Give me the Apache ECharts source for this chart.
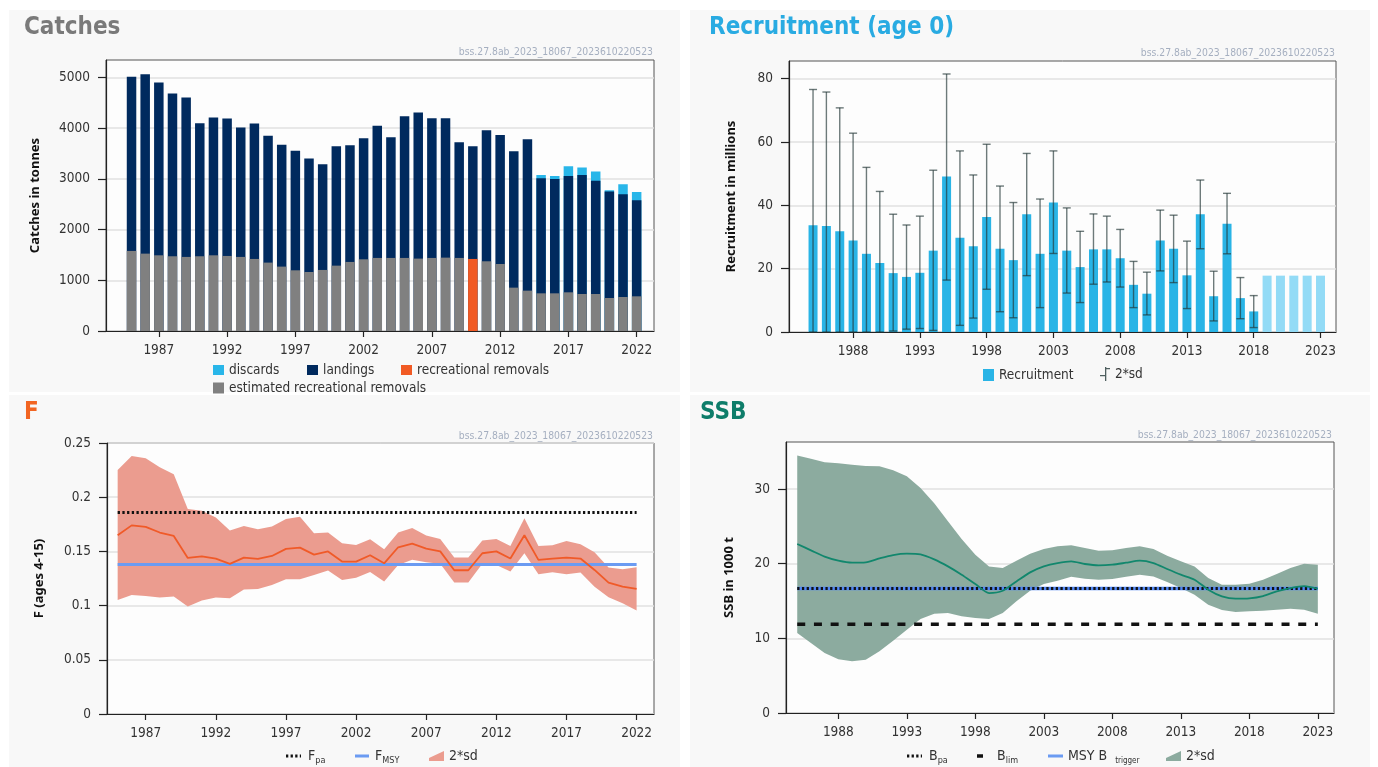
<!DOCTYPE html>
<html lang="en">
<head>
<meta charset="UTF-8">
<title>bss.27.8ab 2023 - stock summary</title>
<script src="https://cdn.jsdelivr.net/npm/echarts@6/dist/echarts.min.js"></script>
<style>
  html, body { margin: 0; padding: 0; background: #fff; }
  #main { width: 1378px; height: 767px; }
</style>
</head>
<body>
<div id="main"></div>
<script>
// ---- data ----
function yearsFrom(start, n) { var a = []; for (var i = 0; i < n; i++) a.push(start + i); return a; }

// catches (tonnes), 1985-2022
var catchYears = yearsFrom(1985, 38);
var estRecRemovals = [1579,1526,1493,1474,1461,1474,1493,1480,1461,1421,1349,1270,1197,1164,1204,1289,1362,1414,1441,1441,1441,1428,1441,1447,1441,null,1375,1322,855,796,743,743,763,730,730,651,671,684];
var recRemovals = [null,null,null,null,null,null,null,null,null,null,null,null,null,null,null,null,null,null,null,null,null,null,null,null,null,1421,null,null,null,null,null,null,null,null,null,null,null,null];
var landings = [3434,3540,3408,3210,3144,2625,2718,2711,2552,2671,2500,2401,2356,2237,2085,2356,2302,2389,2605,2381,2796,2881,2756,2750,2283,2224,2586,2546,2691,2987,2270,2257,2296,2349,2231,2099,2026,1895];
var discards = [null,null,null,null,null,null,null,null,null,null,null,null,null,null,null,null,null,null,null,null,null,null,null,null,null,null,null,null,null,null,66,59,191,145,184,26,198,164];
var catchTicks = [1987,1992,1997,2002,2007,2012,2017,2022];

// recruitment (millions)
var recYears = yearsFrom(1985, 34);
var recruitment = [33.7,33.5,31.8,28.9,24.7,21.8,18.6,17.4,18.7,25.7,49.1,29.8,27.1,36.3,26.3,22.7,37.2,24.7,40.9,25.7,20.5,26.1,26.1,23.3,14.9,12.1,28.9,26.3,17.9,37.2,11.3,34.2,10.7,6.5];
var recHigh = [76.6,75.8,70.8,62.8,52.0,44.4,37.2,33.8,36.6,51.1,81.5,57.2,49.6,59.3,46.1,40.9,56.4,42.0,57.2,39.2,31.8,37.3,36.6,32.4,22.3,18.9,38.5,36.9,28.7,48.0,19.2,43.8,17.2,11.5];
var recLow = [0,0,0,0,0,0,0.3,0.9,1.1,0.5,16.4,2.1,4.4,13.5,6.4,4.5,17.8,7.7,24.8,12.3,9.3,15.1,15.8,14.2,7.7,5.4,19.3,15.6,7.4,26.3,3.5,24.7,4.2,1.4];
var recAssumedYears = [2019,2020,2021,2022,2023];
var recAssumed = [17.8,17.8,17.8,17.8,17.8];
var recTicks = [1988,1993,1998,2003,2008,2013,2018,2023];

// fishing mortality F (ages 4-15)
var fYears = yearsFrom(1985, 38);
var fValues = [0.165,0.174,0.1726,0.1674,0.1643,0.144,0.1455,0.1434,0.1385,0.1443,0.1431,0.1458,0.1523,0.1535,0.147,0.150,0.1406,0.1406,0.1465,0.139,0.1538,0.1572,0.1526,0.150,0.1326,0.1326,0.1483,0.150,0.1434,0.1649,0.1422,0.1434,0.1443,0.1434,0.1329,0.1212,0.1175,0.1154];
var fHigh = [0.2252,0.238,0.236,0.2277,0.2212,0.189,0.1874,0.1812,0.1692,0.1735,0.1705,0.1729,0.180,0.182,0.1668,0.1674,0.1575,0.156,0.1612,0.152,0.1674,0.1717,0.1646,0.1615,0.1443,0.1443,0.16,0.1615,0.155,0.1806,0.155,0.1557,0.1597,0.1566,0.1492,0.1351,0.1335,0.1354];
var fLow = [0.1052,0.1098,0.1089,0.1074,0.1083,0.0991,0.1046,0.1074,0.1068,0.1148,0.1154,0.119,0.1243,0.1243,0.1283,0.1323,0.1237,0.1258,0.1311,0.1222,0.1375,0.1422,0.14,0.1385,0.1212,0.1212,0.1385,0.1375,0.1314,0.1483,0.1289,0.1308,0.1289,0.1305,0.1175,0.1077,0.1022,0.0954];
var Fpa = 0.186, Fmsy = 0.138;
var fTicks = [1987,1992,1997,2002,2007,2012,2017,2022];

// SSB (1000 t)
var ssbYears = yearsFrom(1985, 39);
var ssbValues = [22.63,21.79,20.94,20.4,20.13,20.18,20.71,21.16,21.34,21.25,20.58,19.64,18.53,17.28,16.07,16.38,17.63,18.84,19.64,20.09,20.31,19.96,19.78,19.87,20.13,20.4,20.09,19.29,18.53,17.86,16.52,15.63,15.31,15.36,15.67,16.29,16.74,17.0,16.65];
var ssbHigh = [34.5,34.06,33.6,33.44,33.26,33.08,33.04,32.5,31.7,30.13,28.1,25.7,23.3,21.2,19.64,19.42,20.4,21.34,21.96,22.32,22.46,22.1,21.74,21.79,22.1,22.32,21.96,21.07,20.31,19.64,18.08,17.19,17.19,17.32,17.86,18.62,19.42,20.0,19.87];
var ssbLow = [10.71,9.375,8.04,7.19,6.92,7.14,8.26,9.69,11.16,12.59,13.3,13.39,12.95,12.72,12.59,13.39,14.96,16.38,17.28,17.72,18.26,17.99,17.86,17.95,18.26,18.53,18.3,17.54,16.74,15.85,14.51,13.79,13.53,13.62,13.71,13.84,13.97,13.84,13.3];
var Blim = 11.9, Bpa = 16.66, MSYBtrigger = 16.66;
var ssbTicks = [1988,1993,1998,2003,2008,2013,2018,2023];

var stamp = 'bss.27.8ab_2023_18067_2023610220523';

// ---- helpers ----
var FONT = "'DejaVu Sans Condensed','Liberation Sans Narrow',sans-serif";
var NAMEFONT = "'Noto Sans','Open Sans',sans-serif";

function pairs(xs, ys) { return xs.map(function (x, i) { return [x, ys[i]]; }); }

// running totals so the catch components sit on top of each other
var catchBase = catchYears.map(function (y, i) { return (estRecRemovals[i] || 0) + (recRemovals[i] || 0); });
var landTop = catchYears.map(function (y, i) { return catchBase[i] + landings[i]; });
var discTop = catchYears.map(function (y, i) { return discards[i] == null ? null : landTop[i] + discards[i]; });

function xAxis(grid, min, max, ticks) {
  return {
    type: 'value', gridIndex: grid, min: min, max: max,
    splitLine: { show: false },
    axisLine: { show: true, onZero: false, lineStyle: { color: '#222', width: 1.2 } },
    axisTick: { show: true, length: 6, customValues: ticks, lineStyle: { color: '#222', width: 1.2 } },
    axisLabel: { customValues: ticks, margin: 12, fontSize: 13.5, color: '#333', fontFamily: FONT,
      formatter: function (v) { return String(v); } }
  };
}

function yAxis(grid, max, step, ticks, name, gap) {
  return {
    type: 'value', gridIndex: grid, min: 0, max: max, interval: step,
    name: name, nameLocation: 'middle', nameGap: gap,
    nameTextStyle: { fontFamily: NAMEFONT, fontWeight: 'bold', fontSize: 13, color: '#111' },
    axisLine: { show: true, lineStyle: { color: '#222', width: 1.2 } },
    axisTick: { show: true, length: 8, customValues: ticks, lineStyle: { color: '#222', width: 1.2 } },
    axisLabel: { customValues: ticks, margin: 16, fontSize: 13.5, color: '#333', fontFamily: FONT,
      formatter: function (v) { return String(v); } },
    splitLine: { show: true, lineStyle: { color: '#e1e1e1', width: 1.5 } }
  };
}

function grid(left, top, width, height) {
  return { left: left, top: top, width: width, height: height, show: true,
    backgroundColor: '#fdfdfd', borderColor: '#555', borderWidth: 1, outerBoundsMode: 'none' };
}

function barLegend(name, left, top, w, h, icon, color, label) {
  return {
    left: left, top: top, padding: 0, itemWidth: w, itemHeight: h, itemGap: 0,
    selectedMode: false, symbolKeepAspect: false,
    data: [{ name: name, icon: icon, itemStyle: { color: color, borderWidth: 0 } }],
    formatter: label ? function () { return label; } : undefined,
    textStyle: { fontSize: 13.5, color: '#333', fontFamily: FONT }
  };
}

// confidence band drawn as one polygon through the axis scales
function bandSeries(name, axis, years, lo, hi, color) {
  return {
    type: 'custom', name: name, xAxisIndex: axis, yAxisIndex: axis, z: 1, silent: true,
    data: years.map(function (y, i) { return [y, lo[i], hi[i]]; }),
    encode: { x: 0, y: [1, 2] },
    renderItem: function (params, api) {
      if (params.dataIndex !== 0) return null;
      var pts = [];
      for (var i = 0; i < years.length; i++) pts.push(api.coord([years[i], hi[i]]));
      for (var j = years.length - 1; j >= 0; j--) pts.push(api.coord([years[j], lo[j]]));
      return { type: 'polygon', shape: { points: pts }, style: { fill: color } };
    }
  };
}

function refLine(name, axis, years, value, color, width, dash) {
  return { type: 'line', name: name, xAxisIndex: axis, yAxisIndex: axis, symbol: 'none', z: 3, silent: true,
    data: [[years[0], value], [years[years.length - 1], value]],
    lineStyle: { color: color, width: width, type: dash || 'solid' } };
}

var rich = {
  n: { fontSize: 14, fontFamily: FONT, fill: '#333', lineHeight: 18 },
  s: { fontSize: 9, fontFamily: FONT, fill: '#333', lineHeight: 9, verticalAlign: 'bottom' },
  t: { fontSize: 8, fontFamily: FONT, fill: '#333', lineHeight: 8, verticalAlign: 'bottom' }
};
function legText(x, y, text) {
  return { type: 'text', x: x, y: y, z: 20,
    style: { text: text, rich: rich, fontSize: 14, fontFamily: FONT, fill: '#333', verticalAlign: 'middle' } };
}
function legLine(x1, x2, y, color, width, dash) {
  return { type: 'line', z: 20, shape: { x1: x1, y1: y, x2: x2, y2: y },
    style: { stroke: color, lineWidth: width, lineDash: dash || null } };
}
function legBand(x, y, color) {
  return { type: 'polygon', z: 20, shape: { points: [[x, y + 2], [x + 15, y - 5], [x + 15, y + 5], [x, y + 5]] },
    style: { fill: color } };
}

// ---- chart ----
var chart = echarts.init(document.getElementById('main'));

var panelBg = '#f8f8f8';
var titleStyle = { fontSize: 24, fontWeight: 'bold', fontFamily: FONT };
var stampStyle = { fontSize: 10.3, fontWeight: 'normal', color: '#a5afc0', fontFamily: FONT };
var errorStyle = { stroke: 'rgba(35,55,55,0.66)', lineWidth: 1.4 };
var catchBar = { type: 'bar', xAxisIndex: 0, yAxisIndex: 0, barWidth: 9.5, barGap: '-100%' };

var option = {
  animation: false,
  backgroundColor: '#ffffff',
  title: [
    { text: 'Catches', left: 24, top: 16, padding: 0, textStyle: Object.assign({ color: '#7a7a7a' }, titleStyle) },
    { text: 'Recruitment (age 0)', left: 709, top: 16, padding: 0, textStyle: Object.assign({ color: '#29abe2' }, titleStyle) },
    { text: 'F', left: 24, top: 401, padding: 0, textStyle: Object.assign({ color: '#f26522' }, titleStyle) },
    { text: 'SSB', left: 700, top: 401, padding: 0, textStyle: Object.assign({ color: '#0e7d6a' }, titleStyle) },
    { text: stamp, right: 1378 - 653, top: 47, padding: 0, textStyle: stampStyle },
    { text: stamp, right: 1378 - 1335, top: 48, padding: 0, textStyle: stampStyle },
    { text: stamp, right: 1378 - 653, top: 431, padding: 0, textStyle: stampStyle },
    { text: stamp, right: 1378 - 1332, top: 430, padding: 0, textStyle: stampStyle }
  ],
  grid: [
    grid(106, 60, 548, 271),
    grid(789, 61, 547, 271),
    grid(107, 443, 547, 271),
    grid(786, 442, 548, 271)
  ],
  xAxis: [
    xAxis(0, 1983.13, 2023.27, catchTicks),
    xAxis(1, 1983.2, 2024.16, recTicks),
    xAxis(2, 1984.24, 2023.24, fTicks),
    xAxis(3, 1984.18, 2024.18, ssbTicks)
  ],
  yAxis: [
    yAxis(0, 5345, 1000, [0, 1000, 2000, 3000, 4000, 5000], 'Catches in tonnes', 64),
    yAxis(1, 85.6, 20, [0, 20, 40, 60, 80], 'Recruitment in millions', 51),
    yAxis(2, 0.25, 0.05, [0, 0.05, 0.1, 0.15, 0.2, 0.25], 'F (ages 4-15)', 61),
    yAxis(3, 36.3, 10, [0, 10, 20, 30], 'SSB in 1000 t', 50)
  ],
  legend: [
    barLegend('discards', 213, 363, 11, 10, 'rect', '#29b6e9'),
    barLegend('landings', 307, 363, 11, 10, 'rect', '#002a5e'),
    barLegend('recreational removals', 401, 363, 11, 10, 'rect', '#f15a24'),
    barLegend('estimated recreational removals', 213, 381, 11, 11, 'rect', '#808080'),
    barLegend('Recruitment', 983, 368, 11, 12, 'rect', '#29b4e6'),
    barLegend('recSd', 1100, 367, 10, 14, 'path://M5,0h1.3v14h-1.3zM5,1h5v1.3h-5zM0,8h5v1.3h-5z', '#4f5f5f', '2*sd')
  ],
  graphic: [
    { type: 'rect', z: -10, silent: true, shape: { x: 9, y: 10, width: 671, height: 382 }, style: { fill: panelBg } },
    { type: 'rect', z: -10, silent: true, shape: { x: 690, y: 10, width: 680, height: 382 }, style: { fill: panelBg } },
    { type: 'rect', z: -10, silent: true, shape: { x: 9, y: 395, width: 671, height: 372 }, style: { fill: panelBg } },
    { type: 'rect', z: -10, silent: true, shape: { x: 690, y: 395, width: 680, height: 372 }, style: { fill: panelBg } },
    // F legend
    legLine(286, 301, 756, '#111', 3, [2.3, 2.3]),
    legText(308, 756, '{n|F}{s|pa}'),
    legLine(355, 369, 756, '#6b9bf2', 3),
    legText(375, 756, '{n|F}{s|MSY}'),
    legBand(429, 756, '#eb9c8f'),
    legText(449, 756, '{n|2*sd}'),
    // SSB legend
    legLine(907, 922, 756, '#111', 3, [2.3, 2.3]),
    legLine(977, 983, 756, '#111', 3.5),
    legText(929, 756, '{n|B}{s|pa}'),
    legText(997, 756, '{n|B}{s|lim}'),
    legLine(1048, 1063, 756, '#6b9bf2', 3),
    legText(1068, 756, '{n|MSY B\u00a0\u00a0}{t|trigger}'),
    legBand(1166, 756, '#8cab9f'),
    legText(1186, 756, '{n|2*sd}')
  ],
  series: [
    // catches: full column first, lower components drawn over it
    Object.assign({ name: 'discards', data: pairs(catchYears, discTop), itemStyle: { color: '#29b6e9' } }, catchBar),
    Object.assign({ name: 'landings', data: pairs(catchYears, landTop), itemStyle: { color: '#002a5e' } }, catchBar),
    Object.assign({ name: 'estimated recreational removals', data: pairs(catchYears, estRecRemovals), itemStyle: { color: '#808080' } }, catchBar),
    Object.assign({ name: 'recreational removals', data: pairs(catchYears, recRemovals), itemStyle: { color: '#f15a24' } }, catchBar),

    // recruitment
    { type: 'bar', name: 'Recruitment', xAxisIndex: 1, yAxisIndex: 1, barWidth: 9, barGap: '-100%',
      data: pairs(recYears, recruitment), itemStyle: { color: '#29b4e6' } },
    { type: 'bar', name: 'Recruitment (assumed)', xAxisIndex: 1, yAxisIndex: 1, barWidth: 9, barGap: '-100%',
      data: pairs(recAssumedYears, recAssumed), itemStyle: { color: '#93dbf6' } },
    { type: 'custom', name: 'recSd', xAxisIndex: 1, yAxisIndex: 1, z: 5,
      data: recYears.map(function (y, i) { return [y, recLow[i], recHigh[i]]; }),
      encode: { x: 0, y: [1, 2] },
      itemStyle: { color: '#4f5f5f' },
      renderItem: function (params, api) {
        var x = api.value(0);
        var top = api.coord([x, api.value(2)]);
        var bot = api.coord([x, api.value(1)]);
        return { type: 'group', children: [
          { type: 'line', shape: { x1: top[0], y1: top[1], x2: bot[0], y2: bot[1] }, style: errorStyle },
          { type: 'line', shape: { x1: top[0] - 4, y1: top[1], x2: top[0] + 4, y2: top[1] }, style: errorStyle },
          { type: 'line', shape: { x1: bot[0] - 4, y1: bot[1], x2: bot[0] + 4, y2: bot[1] }, style: errorStyle }
        ] };
      } },

    // F
    bandSeries('fSd', 2, fYears, fLow, fHigh, '#eb9c8f'),
    refLine('FMSY', 2, fYears, Fmsy, '#6b9bf2', 3),
    refLine('Fpa', 2, fYears, Fpa, '#111', 3, [2.3, 2.4]),
    { type: 'line', name: 'F', xAxisIndex: 2, yAxisIndex: 2, symbol: 'none', z: 4,
      data: pairs(fYears, fValues), lineStyle: { color: '#f05a28', width: 1.8 } },

    // SSB
    bandSeries('ssbSd', 3, ssbYears, ssbLow, ssbHigh, '#8cab9f'),
    refLine('Blim', 3, ssbYears, Blim, '#111', 3.5, [8, 8.7]),
    refLine('MSY Btrigger', 3, ssbYears, MSYBtrigger, '#4f86f7', 3.5),
    refLine('Bpa', 3, ssbYears, Bpa, '#111', 3, [2.3, 2.4]),
    { type: 'line', name: 'SSB', xAxisIndex: 3, yAxisIndex: 3, symbol: 'none', z: 4, smooth: 0.25,
      data: pairs(ssbYears, ssbValues), lineStyle: { color: '#12876d', width: 1.8 } }
  ]
};

chart.setOption(option);
</script>
</body>
</html>
